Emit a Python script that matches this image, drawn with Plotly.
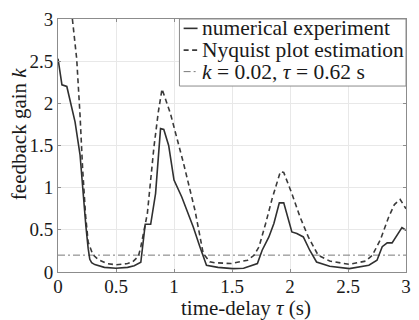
import plotly.graph_objects as go

# ---- data ----
tau_num = [0.0, 0.034, 0.076, 0.147, 0.19, 0.218, 0.24, 0.26, 0.274, 0.29, 0.317, 0.40, 0.50,
           0.60, 0.657, 0.714, 0.752, 0.799, 0.841, 0.884, 0.912, 0.954, 1.0, 1.067, 1.166,
           1.223, 1.251, 1.28, 1.379, 1.506, 1.60, 1.676, 1.719, 1.76, 1.818, 1.861, 1.908,
           1.946, 2.016, 2.059, 2.115, 2.17, 2.229, 2.342, 2.512, 2.68, 2.75, 2.795, 2.838,
           2.88, 2.92, 2.965, 3.0]
k_num = [2.53, 2.22, 2.20, 1.78, 1.39, 0.85, 0.55, 0.28, 0.15, 0.11, 0.088, 0.055, 0.045,
         0.055, 0.075, 0.115, 0.566, 0.566, 0.93, 1.70, 1.69, 1.50, 1.09, 0.89, 0.534,
         0.30, 0.19, 0.08, 0.055, 0.04, 0.045, 0.075, 0.10, 0.258, 0.416, 0.575, 0.82,
         0.82, 0.475, 0.456, 0.416, 0.258, 0.119, 0.068, 0.04, 0.08, 0.14, 0.30, 0.345,
         0.345, 0.435, 0.527, 0.495]

tau_nyq = [0.124, 0.161, 0.19, 0.212, 0.238, 0.26, 0.30, 0.345, 0.42, 0.50, 0.60, 0.643,
           0.693, 0.714, 0.77, 0.827, 0.865, 0.897, 0.969, 1.082, 1.181, 1.252, 1.308, 1.35,
           1.49, 1.634, 1.69, 1.733, 1.79, 1.846, 1.917, 1.946, 2.016, 2.087, 2.158, 2.243,
           2.342, 2.512, 2.653, 2.71, 2.78, 2.85, 2.90, 2.95, 3.0]
k_nyq = [3.0, 2.53, 1.86, 1.23, 0.67, 0.356, 0.207, 0.15, 0.10, 0.085, 0.10, 0.12,
         0.186, 0.30, 0.69, 1.48, 1.90, 2.17, 1.88, 1.29, 0.73, 0.22, 0.12, 0.11,
         0.10, 0.14, 0.198, 0.30, 0.575, 0.87, 1.19, 1.18, 0.93, 0.65, 0.416, 0.198,
         0.13, 0.09, 0.13, 0.198, 0.385, 0.65, 0.80, 0.86, 0.75]

tau_ref = [0.0, 3.0]
k_ref = [0.2, 0.2]

x_ticks = [0, 0.5, 1, 1.5, 2, 2.5, 3]
y_ticks = [0, 0.5, 1, 1.5, 2, 2.5, 3]

legend_labels = ["numerical experiment", "Nyquist plot estimation",
                 "<i>k</i> = 0.02, <i>τ</i> = 0.62 s"]

FONT = "Liberation Serif, Times New Roman, serif"
TXT = "#1a1a1a"
C_NUM = "#303030"
C_NYQ = "#3a3a3a"
C_REF = "#7a7a7a"
FRAME = "#8c8c8c"

styles = [dict(color=C_NUM, width=1.6),
          dict(color=C_NYQ, width=1.6, dash="5px,3.5px"),
          dict(color=C_REF, width=1, dash="7px,3px,2px,3px")]

fig = go.Figure()
fig.add_trace(go.Scatter(x=tau_ref, y=k_ref, mode="lines", name=legend_labels[2],
                         line=styles[2]))
fig.add_trace(go.Scatter(x=tau_nyq, y=k_nyq, mode="lines", name=legend_labels[1],
                         line=styles[1]))
fig.add_trace(go.Scatter(x=tau_num, y=k_num, mode="lines", name=legend_labels[0],
                         line=styles[0]))

axis_common = dict(showgrid=True, gridcolor="#e8e8e8", gridwidth=1, zeroline=False,
                   showline=True, linecolor=FRAME, linewidth=1, mirror="ticks",
                   ticks="inside", ticklen=3, tickcolor=FRAME,
                   tickfont=dict(family=FONT, size=19, color=TXT))

fig.update_xaxes(range=[0, 3], tickvals=x_ticks, ticktext=[f"{v:g}" for v in x_ticks],
                 ticklabelstandoff=-3, **axis_common)
fig.update_yaxes(range=[0, 3], tickvals=y_ticks, ticktext=[f"{v:g}" for v in y_ticks],
                 ticklabelstandoff=0, **axis_common)

# axis titles
fig.add_annotation(xref="paper", yref="paper", x=0.54, y=-0.142, xanchor="center",
                   yanchor="middle", showarrow=False,
                   text="time-delay <i>τ</i> (s)", font=dict(family=FONT, size=21, color=TXT))
fig.add_annotation(xref="paper", yref="paper", x=-0.112, y=0.545, xanchor="center",
                   yanchor="middle", showarrow=False, textangle=-90,
                   text="feedback gain <i>k</i>", font=dict(family=FONT, size=21, color=TXT))

# legend box (drawn manually to match the compact MATLAB-style legend)
fig.add_shape(type="rect", xref="paper", yref="paper", x0=0.349, x1=1.0, y0=0.735, y1=1.0,
              line=dict(color=FRAME, width=1), fillcolor="white", layer="above")
rows_y = [0.963, 0.877, 0.792]
for label, st, yy in zip(legend_labels, styles, rows_y):
    fig.add_shape(type="line", xref="paper", yref="paper", x0=0.361, x1=0.401, y0=yy, y1=yy,
                  line=st, layer="above")
    fig.add_annotation(xref="paper", yref="paper", x=0.408, y=yy, xanchor="left",
                       yanchor="middle", showarrow=False, text=label,
                       font=dict(family=FONT, size=21.5, color=TXT))

fig.update_layout(
    width=419, height=320,
    margin=dict(l=58, r=8, t=19, b=48),
    paper_bgcolor="white", plot_bgcolor="white",
    showlegend=False,
)
fig.write_html("out.html", config={"displayModeBar": False},
               post_script="document.body.style.margin='0';document.body.style.padding='0';")
